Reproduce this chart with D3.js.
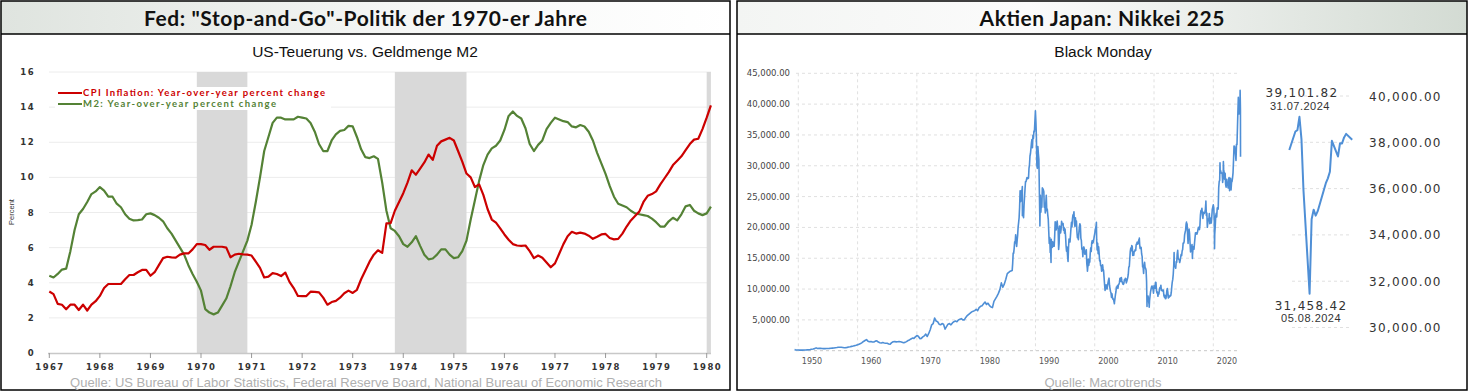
<!DOCTYPE html>
<html><head><meta charset="utf-8">
<script src="https://cdn.jsdelivr.net/npm/d3@7"></script>
<style>body{margin:0;background:#fff}svg{display:block}</style>
</head><body>
<svg id="c" width="1469" height="392"></svg>
<script>
// ---------------- LEFT CHART DATA ----------------
const leftStart = 1967; // monthly series starting Jan 1967
const cpiValues = [3.5,3.35,2.8,2.75,2.49,2.75,2.75,2.45,2.75,2.42,2.75,2.95,
 3.25,3.7,3.93,3.93,3.93,3.93,4.2,4.44,4.44,4.6,4.73,4.73,
 4.4,4.6,5.0,5.4,5.48,5.45,5.43,5.6,5.67,5.67,5.9,6.2,
 6.2,6.15,5.88,6.05,6.05,6.05,6.0,5.45,5.6,5.65,5.62,5.6,
 5.55,5.2,4.85,4.3,4.35,4.55,4.5,4.38,4.58,4.05,3.7,3.25,
 3.24,3.24,3.49,3.48,3.45,3.15,2.75,2.9,2.97,3.15,3.4,3.55,
 3.42,3.6,4.2,4.7,5.2,5.6,5.85,5.7,7.38,7.4,8.1,8.6,
 9.1,9.7,10.4,10.15,10.5,10.85,11.3,11.0,11.8,12.05,12.15,12.25,
 12.1,11.5,10.9,10.22,10.0,9.45,9.6,9.0,8.2,7.6,7.42,7.1,
 6.75,6.45,6.2,6.12,6.1,6.12,5.8,5.4,5.55,5.42,5.15,4.88,
 5.1,5.65,6.2,6.65,6.9,6.8,6.85,6.8,6.68,6.5,6.62,6.75,
 6.78,6.55,6.47,6.5,6.8,7.2,7.55,7.8,8.05,8.6,8.95,9.05,
 9.2,9.6,9.95,10.3,10.7,10.95,11.2,11.55,11.9,12.15,12.2,12.75,
 13.4,14.1];
const m2Values = [4.4,4.3,4.5,4.75,4.8,5.8,7.0,7.9,8.2,8.6,9.05,9.2,
 9.45,9.25,8.9,8.9,8.5,8.3,7.9,7.65,7.55,7.57,7.6,7.9,
 7.95,7.85,7.7,7.5,7.1,6.8,6.4,6.0,5.6,5.0,4.5,4.06,
 3.55,2.5,2.3,2.2,2.3,2.7,3.1,3.8,4.6,5.2,5.8,6.4,
 7.3,8.6,10.0,11.5,12.3,13.1,13.4,13.4,13.3,13.3,13.3,13.45,
 13.4,13.35,13.1,12.6,11.9,11.5,11.5,12.1,12.45,12.65,12.7,12.93,
 12.9,12.3,11.6,11.15,11.1,11.2,11.05,9.7,8.1,7.1,6.95,6.65,
 6.2,6.05,6.3,6.65,6.1,5.6,5.33,5.38,5.6,5.9,5.9,5.6,
 5.4,5.45,5.8,6.4,7.6,8.7,9.8,10.7,11.3,11.65,11.8,12.1,
 12.7,13.5,13.75,13.5,13.35,12.8,11.9,11.5,11.85,12.1,12.75,13.1,
 13.4,13.3,13.2,13.15,12.9,12.85,12.98,12.9,12.6,12.1,11.4,10.8,
 10.2,9.5,8.9,8.5,8.4,8.3,8.1,7.95,7.9,7.85,7.8,7.65,
 7.45,7.2,7.2,7.5,7.7,7.55,7.9,8.35,8.43,8.1,7.95,7.85,
 7.95,8.33];
const recessions = [[1969.917,1970.917],[1973.833,1975.25],[1980.0,1980.0833]];
const leftYTicks = [0,2,4,6,8,10,12,14,16];
const leftXTicks = [1967,1968,1969,1970,1971,1972,1973,1974,1975,1976,1977,1978,1979,1980];
const leftLegend = ["CPI Inflation: Year-over-year percent change","M2: Year-over-year percent change"];

// ---------------- RIGHT CHART DATA ----------------
// quarterly readings 1949-1985
const nikkeiEarly = [
[1949.37,176],[1949.5,140],[1949.75,110],[1950.0,105],[1950.25,95],[1950.5,88],[1950.75,98],
[1951.0,105],[1951.25,125],[1951.5,140],[1951.75,160],[1952.0,180],[1952.25,230],[1952.5,280],[1952.75,340],
[1953.0,460],[1953.25,350],[1953.5,370],[1953.75,375],[1954.0,360],[1954.25,330],[1954.5,340],[1954.75,350],
[1955.0,365],[1955.25,370],[1955.5,390],[1955.75,420],[1956.0,440],[1956.25,480],[1956.5,510],[1956.75,550],
[1957.0,570],[1957.25,560],[1957.5,520],[1957.75,480],[1958.0,500],[1958.25,540],[1958.5,590],[1958.75,640],
[1959.0,700],[1959.25,750],[1959.5,820],[1959.75,870],[1960.0,950],[1960.25,1050],[1960.5,1150],[1960.75,1300],
[1961.0,1500],[1961.25,1650],[1961.5,1800],[1961.75,1550],[1962.0,1450],[1962.25,1500],[1962.5,1400],[1962.75,1420],
[1963.0,1550],[1963.25,1600],[1963.5,1400],[1963.75,1300],[1964.0,1250],[1964.25,1320],[1964.5,1250],[1964.75,1200],
[1965.0,1200],[1965.25,1100],[1965.5,1060],[1965.75,1300],[1966.0,1450],[1966.25,1500],[1966.5,1430],[1966.75,1450],
[1967.0,1480],[1967.25,1450],[1967.5,1380],[1967.75,1300],[1968.0,1350],[1968.25,1470],[1968.5,1650],[1968.75,1750],
[1969.0,1900],[1969.25,2050],[1969.5,2000],[1969.75,2250],[1970.0,2450],[1970.25,2350],[1970.5,1950],[1970.75,2000],
[1971.0,2250],[1971.25,2400],[1971.5,2700],[1971.75,2300],[1972.0,2800],[1972.25,3400],[1972.5,4200],[1972.75,4400],
[1973.0,5300],[1973.25,4800],[1973.5,4700],[1973.75,4300],[1974.0,4200],[1974.25,4400],[1974.5,4300],[1974.75,3500],
[1975.0,3900],[1975.25,4300],[1975.5,4400],[1975.75,4200],[1976.0,4500],[1976.25,4700],[1976.5,4800],[1976.75,4700],
[1977.0,5000],[1977.25,5100],[1977.5,5200],[1977.75,5000],[1978.0,5000],[1978.25,5400],[1978.5,5700],[1978.75,5900],
[1979.0,6100],[1979.25,6300],[1979.5,6400],[1979.75,6500],[1980.0,6700],[1980.25,6500],[1980.5,7000],[1980.75,7200],
[1981.0,7300],[1981.25,7600],[1981.5,7900],[1981.75,7500],[1982.0,7700],[1982.25,7300],[1982.5,7100],[1982.75,7000],
[1983.0,8000],[1983.25,8400],[1983.5,8800],[1983.75,9300],[1984.0,9900],[1984.25,11000],[1984.5,10300],[1984.75,10800],
[1985.0,11600],[1985.25,12500],[1985.5,12700],[1985.75,12900]];
// month-end readings Jan 1986 - Jun 2024
const nikkeiMonthlyStart = 1986;
const nikkeiMonthly = [
13024,14172,15860,15825,16598,17654,17470,18787,17852,16910,17836,18701,
20048,20766,21566,23274,25929,24176,24488,26029,26011,23329,22687,21564,
23622,24986,26260,27434,27418,27769,28104,27911,27924,27982,29579,30159,
31581,31985,32838,33713,34267,32948,34954,34431,35636,35549,37269,38916,
37189,34591,29980,29584,33131,31940,31036,25978,20984,25194,22455,23849,
23293,26409,26292,26111,25790,23291,23900,22336,23916,25222,22687,22984,
22023,21339,19346,17391,18348,15952,15910,18061,17399,16767,17684,16925,
17024,16953,18591,20919,20552,19590,20380,21027,20106,19703,16408,17417,
20229,19997,19112,19725,20974,20644,20449,20629,19564,19990,19076,19723,
18650,17053,16140,16807,15437,14517,16678,18117,17913,17655,18744,19868,
20813,20125,21407,22041,21956,22531,20693,20167,21556,20467,21020,19361,
18330,18557,18003,19151,20069,20605,20331,18229,17888,16459,16636,15259,
16629,16831,16527,15641,15671,15830,16379,14108,13406,13565,14883,13842,
14499,14368,15837,16702,16112,17530,17862,17437,17605,17942,18558,18934,
19540,19960,20337,17974,16332,17411,15727,16861,15747,14540,14649,13786,
13843,12884,12999,13934,13262,12969,11860,10714,9775,10367,10697,10543,
9997,10588,11025,11493,11764,10622,10085,9619,9383,8640,9216,8579,
8340,8363,7973,7831,8425,9083,9563,10344,10219,10560,10101,10677,
10784,11042,11715,11762,11236,11859,11326,11082,10824,10771,10899,11489,
11388,11741,11669,11009,11277,11584,11900,12413,13574,13607,14872,16111,
16650,16205,17060,16906,15467,15505,15457,16141,16128,16399,16274,17226,
17383,17604,17288,17400,17876,18138,17249,16569,16786,16738,15680,15308,
13592,13603,12526,13850,14339,13481,13377,13073,11260,8577,8512,8860,
7994,7568,8110,8828,9523,9958,10357,10493,10133,10035,9346,10546,
10198,10126,11090,11057,9769,9383,9537,8824,9369,9202,9937,10229,
10238,10624,9755,9850,9694,9816,9833,8955,8700,8988,8434,8455,
8803,9723,10084,9521,8543,9007,8695,8840,8870,8928,9446,10395,
11139,11559,12398,13861,13775,13677,13668,13389,14456,14328,15662,16291,
14915,14841,14828,14304,14632,15162,15621,15425,16174,16414,17460,17451,
17674,18798,19207,19520,20563,20236,20585,18890,17388,19083,19747,19034,
17518,16027,16759,16666,17235,15576,16569,16887,16450,17425,18308,19114,
19041,19119,18909,19197,19651,20033,19925,19646,20356,22012,22725,22765,
23098,22068,21454,22468,22202,22305,22554,22865,24120,21920,22351,20015,
20773,21385,21206,22259,20601,21276,21521,20704,21756,22927,23294,23657,
23205,21143,18917,20194,21878,22288,21710,23140,23185,22977,26434,27444,
27663,28966,29179,28813,28860,28792,27284,28090,29453,28893,27822,28792,
27002,26527,27821,26848,27280,26393,27802,28092,25937,27587,27969,26095,
27327,27446,28041,28856,30888,33189,33172,32619,31858,30859,33487,33464,
36287,39166,40369,38406,38488,39583];
// intra-month extremes visible on the chart
const nikkeiSpikes = [[1987.79,26646],[1987.80,21910],[1990.75,20222],[1992.63,14309],[1995.5,14485],
[1998.77,12880],[2000.28,20833],[2003.32,7607],[2007.52,18262],[2008.82,7162],[2009.19,7055],
[2013.39,15942],[2015.48,20868],[2016.48,14952],[2018.75,24271],[2020.21,16553],[2021.13,30468],
[2021.7,30670],[2024.22,41087],[2024.525,42224],[2024.578,39101.82],[2024.592,31458.42]];
const nikkeiYTicks = [5000,10000,15000,20000,25000,30000,35000,40000,45000];
const nikkeiXTicks = [1950,1960,1970,1980,1990,2000,2010,2020];

const insetDates = ["2024-07-26","2024-07-29","2024-07-30","2024-07-31","2024-08-01","2024-08-02","2024-08-05","2024-08-06","2024-08-07","2024-08-08","2024-08-09","2024-08-13","2024-08-14","2024-08-15","2024-08-16","2024-08-19","2024-08-20","2024-08-21","2024-08-22","2024-08-23","2024-08-26"];
const insetValues = [37667,38468,38525,39101.82,38126,35909,31458.42,34675,35089,34831,35025,36232,36442,36726,38062,37388,37963,37951,38211,38364,38110];
const insetTicks = [30000,32000,34000,36000,38000,40000];
const insetHigh = {date:"2024-07-31", value:39101.82, label:"31.07.2024"};
const insetLow = {date:"2024-08-05", value:31458.42, label:"05.08.2024"};

// ---------------- DRAW ----------------
const svg = d3.select("#c");
const defs = svg.append("defs");
const g1 = defs.append("linearGradient").attr("id","gL").attr("x1","0").attr("x2","1").attr("y1","0").attr("y2","0");
g1.append("stop").attr("offset","0%").attr("stop-color","#dfe4df");
g1.append("stop").attr("offset","60%").attr("stop-color","#f7f8f7");
g1.append("stop").attr("offset","100%").attr("stop-color","#ffffff");
const g2 = defs.append("linearGradient").attr("id","gR").attr("x1","0").attr("x2","1").attr("y1","0").attr("y2","0");
g2.append("stop").attr("offset","0%").attr("stop-color","#f3f5f3");
g2.append("stop").attr("offset","40%").attr("stop-color","#fbfbfb");
g2.append("stop").attr("offset","100%").attr("stop-color","#d3dbd3");

function panel(x, w, grad, title, titleLen) {
  svg.append("rect").attr("x",x).attr("y",1).attr("width",w).attr("height",33).attr("fill",`url(#${grad})`);
  svg.append("line").attr("x1",x).attr("x2",x+w).attr("y1",34).attr("y2",34).attr("stroke","#000").attr("stroke-width",1.5);
  svg.append("rect").attr("x",x).attr("y",1).attr("width",w).attr("height",389).attr("fill","none").attr("stroke","#000").attr("stroke-width",1.5);
  svg.append("text").attr("x",x+w/2).attr("y",26).attr("text-anchor","middle")
    .attr("font-family","Lato, 'Open Sans', sans-serif").attr("font-weight",700).attr("font-size",21)
    .attr("fill","#111").attr("textLength",titleLen).text(title);
}
panel(1,729,"gL",'Fed: "Stop-and-Go"-Politik der 1970-er Jahre',443);
panel(737,730,"gR","Aktien Japan: Nikkei 225",245);

// ---- Left chart ----
const L = svg.append("g");
const xL = d3.scaleLinear().domain([1967,1980.0833]).range([49.3,710.9]);
const yL = d3.scaleLinear().domain([0,16]).range([353,72]);
L.append("text").attr("x",365).attr("y",57).attr("text-anchor","middle")
  .attr("font-family","'Liberation Sans', Arial, sans-serif").attr("font-size",15.5).attr("fill","#111")
  .text("US-Teuerung vs. Geldmenge M2");
L.selectAll(".gl").data(leftYTicks.filter(d=>d>0)).join("line")
  .attr("x1",49).attr("x2",711).attr("y1",d=>yL(d)).attr("y2",d=>yL(d))
  .attr("stroke","#ececec").attr("stroke-width",1);
L.selectAll(".rec").data(recessions).join("rect")
  .attr("x",d=>xL(d[0])).attr("width",d=>xL(d[1])-xL(d[0]))
  .attr("y",yL(16)).attr("height",yL(0)-yL(16)).attr("fill","#d9d9d9");
L.append("line").attr("x1",48).attr("x2",711).attr("y1",yL(0)+0.5).attr("y2",yL(0)+0.5).attr("stroke","#c8c8c8").attr("stroke-width",1.5);
L.selectAll(".tk").data(leftXTicks).join("line")
  .attr("x1",d=>xL(d)).attr("x2",d=>xL(d)).attr("y1",yL(0)).attr("y2",yL(0)+5).attr("stroke","#999");
const axFont = "'DejaVu Sans', Verdana, sans-serif";
L.selectAll(".xl").data(leftXTicks).join("text")
  .attr("x",d=>xL(d)+0.7).attr("y",370).attr("text-anchor","middle")
  .attr("font-family",axFont).attr("font-weight",700).attr("font-size",8.5).attr("letter-spacing",1.4).attr("fill","#333")
  .text(d=>d);
L.selectAll(".yl").data(leftYTicks).join("text")
  .attr("x",35).attr("y",d=>yL(d)+3).attr("text-anchor","end")
  .attr("font-family",axFont).attr("font-weight",700).attr("font-size",8.5).attr("letter-spacing",1.4).attr("fill","#333")
  .text(d=>d);
L.append("text").attr("transform","translate(14,212) rotate(-90)").attr("text-anchor","middle")
  .attr("font-family","'Liberation Sans Narrow','Liberation Sans',sans-serif").attr("font-size",7.5).attr("fill","#333").text("Percent");
const lineL = d3.line().x((d,i)=>xL(leftStart+i/12)).y(d=>yL(d));
L.append("path").attr("d",lineL(m2Values)).attr("fill","none").attr("stroke","#548235").attr("stroke-width",2.2).attr("stroke-linejoin","round");
L.append("path").attr("d",lineL(cpiValues)).attr("fill","none").attr("stroke","#cc0000").attr("stroke-width",2.2).attr("stroke-linejoin","round");
L.append("rect").attr("x",55).attr("y",87).attr("width",276).attr("height",23).attr("fill","#fff");
const legCol = ["#cc0000","#548235"];
const legLen = [242,193];
leftLegend.forEach((t,i)=>{
  const yy = 93 + i*11;
  L.append("line").attr("x1",58).attr("x2",82).attr("y1",yy).attr("y2",yy).attr("stroke",legCol[i]).attr("stroke-width",2);
  L.append("text").attr("x",83).attr("y",yy+3.3).attr("font-family","Lato, sans-serif").attr("font-weight",700)
    .attr("font-size",9.5).attr("fill",legCol[i]).attr("textLength",legLen[i]).text(t);
});
L.append("text").attr("x",366).attr("y",387).attr("text-anchor","middle")
  .attr("font-family","'Liberation Sans', Arial, sans-serif").attr("font-size",13).attr("fill","#b0b0b0")
  .text("Quelle: US Bureau of Labor Statistics, Federal Reserve Board, National Bureau of Economic Research");

// ---- Right chart ----
const R = svg.append("g");
const xN = d3.scaleLinear().domain([1950,2020]).range([798.3,1213.3]);
const yN = d3.scaleLinear().domain([0,45000]).range([350.7,73.3]);
R.append("text").attr("x",1103).attr("y",57).attr("text-anchor","middle")
  .attr("font-family","'Liberation Sans', Arial, sans-serif").attr("font-size",15.5).attr("fill","#111").text("Black Monday");
const dash = "3,3";
R.selectAll(".hg").data([0].concat(nikkeiYTicks)).join("line")
  .attr("x1",796).attr("x2",1240).attr("y1",d=>yN(d)).attr("y2",d=>yN(d))
  .attr("stroke",d=>d===0?"#c8c8c8":"#e0e0e0").attr("stroke-dasharray",dash);
R.selectAll(".vg").data(nikkeiXTicks).join("line")
  .attr("x1",d=>xN(d)).attr("x2",d=>xN(d)).attr("y1",yN(45000)).attr("y2",yN(0))
  .attr("stroke","#e0e0e0").attr("stroke-dasharray",dash);
R.selectAll(".ny").data(nikkeiYTicks).join("text")
  .attr("x",790).attr("y",d=>yN(d)+3).attr("text-anchor","end")
  .attr("font-family",axFont).attr("font-size",8.5).attr("fill","#444").text(d=>d3.format(",.2f")(d));
R.selectAll(".nx").data(nikkeiXTicks).join("text")
  .attr("x",d=>xN(d)+3.5).attr("y",364).attr("text-anchor","start")
  .attr("font-family",axFont).attr("font-size",8).attr("fill","#555").text(d=>d);
const nikkeiAll = nikkeiEarly
  .concat(nikkeiMonthly.map((v,i)=>[nikkeiMonthlyStart + (i+1)/12 - 0.005, v]))
  .concat(nikkeiSpikes)
  .sort((a,b)=>a[0]-b[0]);
R.append("path").attr("d",d3.line().x(d=>xN(d[0])).y(d=>yN(d[1]))(nikkeiAll))
  .attr("fill","none").attr("stroke","#4f8fd6").attr("stroke-width",1.6).attr("stroke-linejoin","round");

// inset
const parse = d3.timeParse("%Y-%m-%d");
const xI = d3.scaleTime().domain([parse("2024-07-26"),parse("2024-08-26")]).range([1289.3,1352.2]);
const yI = d3.scaleLinear().domain([30000,40000]).range([327.5,96]);
R.selectAll(".ig").data(insetTicks).join("line")
  .attr("x1",1292).attr("x2",1350).attr("y1",d=>yI(d)).attr("y2",d=>yI(d))
  .attr("stroke","#e0e0e0").attr("stroke-dasharray",dash);
const bigFont = "'DejaVu Sans', Verdana, sans-serif";
R.selectAll(".il").data(insetTicks).join("text")
  .attr("x",1369).attr("y",d=>yI(d)+4.5).attr("font-family",bigFont).attr("font-size",12).attr("letter-spacing",1.3)
  .attr("fill","#333").text(d=>d3.format(",.2f")(d));
R.append("path").attr("d",d3.line().x((d,i)=>xI(parse(insetDates[i]))).y(d=>yI(d))(insetValues))
  .attr("fill","none").attr("stroke","#4f8fd6").attr("stroke-width",2).attr("stroke-linejoin","round");
[insetHigh, insetLow].forEach((a,k)=>{
  const px = xI(parse(a.date)), py = yI(a.value);
  const vy = k===0 ? py-20 : py+16, dy = k===0 ? py-6.5 : py+28.5;
  R.append("text").attr("x",px+(k===0?2.5:1.5)).attr("y",vy).attr("text-anchor","middle")
    .attr("font-family",bigFont).attr("font-size",12).attr("letter-spacing",1.3).attr("fill","#333")
    .text(d3.format(",.2f")(a.value));
  R.append("text").attr("x",px+(k===0?0.5:1.5)).attr("y",dy).attr("text-anchor","middle")
    .attr("font-family","'Liberation Sans', Arial, sans-serif").attr("font-size",11).attr("letter-spacing",0.5).attr("fill","#333")
    .text(a.label);
});
R.append("text").attr("x",1103).attr("y",387).attr("text-anchor","middle")
  .attr("font-family","'Liberation Sans', Arial, sans-serif").attr("font-size",13).attr("fill","#b0b0b0").text("Quelle: Macrotrends");
</script>
</body></html>
